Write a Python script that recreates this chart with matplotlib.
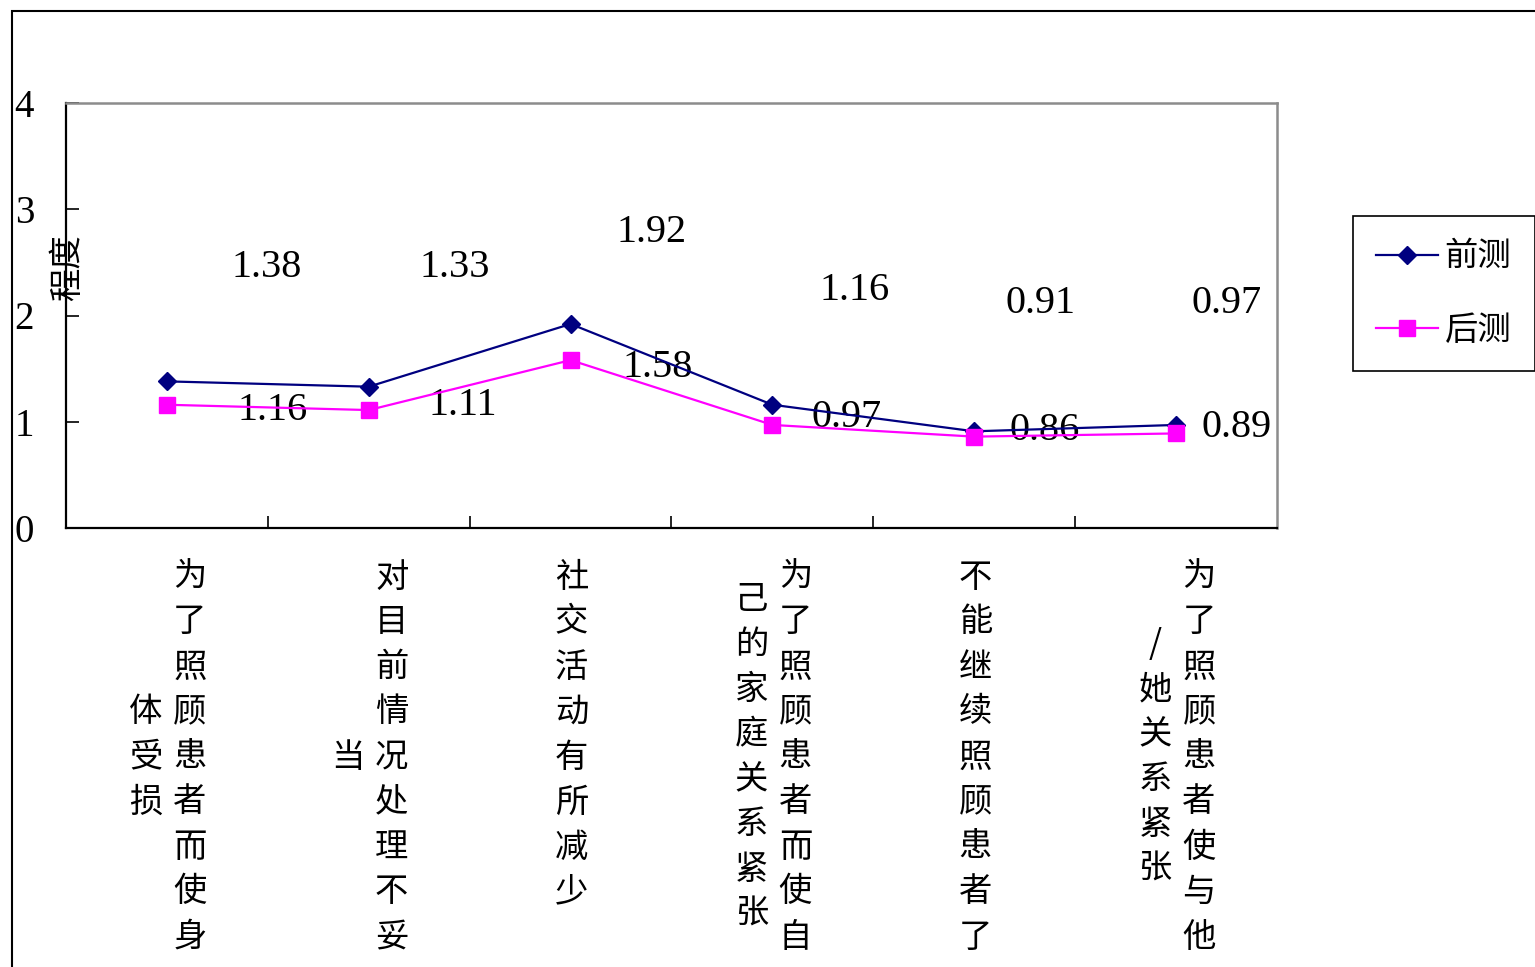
import matplotlib
matplotlib.use("Agg")
import matplotlib.pyplot as plt
from matplotlib.patches import Rectangle

# ---------------- data ----------------
categories = [
    "为了照顾患者而使身体受损",
    "对目前情况处理不妥当",
    "社交活动有所减少",
    "为了照顾患者而使自己的家庭关系紧张",
    "不能继续照顾患者了",
    "为了照顾患者使与他/她关系紧张",
]
series_names = ["前测", "后测"]
pre_values = [1.38, 1.33, 1.92, 1.16, 0.91, 0.97]
post_values = [1.16, 1.11, 1.58, 0.97, 0.86, 0.89]
y_ticks = [0, 1, 2, 3, 4]
y_label = "程度"

# data-label placement offsets (layout only: category units / value units)
pre_label_dx = [0.496, 0.426, 0.401, 0.406, 0.326, 0.251]
pre_label_dy = [0.98, 1.03, 0.77, 0.99, 1.11, 1.05]
post_label_dx = [0.523, 0.464, 0.431, 0.367, 0.348, 0.300]
post_label_dy = [-0.144, -0.046, -0.159, -0.019, -0.032, -0.034]

# ---------------- figure ----------------
W, H, DPI = 1535, 967, 100
fig = plt.figure(figsize=(W / DPI, H / DPI), dpi=DPI)
CJK = ["Noto Sans CJK SC", "DejaVu Sans"]
NUM = ["Liberation Serif", "DejaVu Serif"]
NAVY = "#000080"
MAGENTA = "#FF00FF"

# outer chart-area frame
fig.add_artist(Rectangle((12 / W, -0.2), 1.5, (1 - 10.5 / H) + 0.2,
                         transform=fig.transFigure, fill=False,
                         ec="black", lw=1.5))

ax = fig.add_axes([66 / W, 1 - 528 / H, (1277 - 66) / W, (528 - 103) / H])
x = list(range(len(categories)))
ax.plot(x, pre_values, color=NAVY, lw=1.6, marker="D", ms=9,
        label=series_names[0], zorder=3)
ax.plot(x, post_values, color=MAGENTA, lw=1.6, marker="s", ms=11.5,
        label=series_names[1], zorder=4)

ax.set_xlim(-0.5, len(categories) - 0.5)
ax.set_ylim(y_ticks[0], y_ticks[-1])
ax.set_yticks(y_ticks)
ax.set_yticklabels([str(t) for t in y_ticks], family=NUM, fontsize=28)
ax.set_xticks([i + 0.5 for i in range(len(categories) - 1)])
ax.set_xticklabels([])
ax.tick_params(axis="y", direction="in", length=9, width=1.2, pad=23)
ax.tick_params(axis="x", direction="in", length=8.5, width=1.2)

for s in ["left", "bottom"]:
    ax.spines[s].set_color("black")
    ax.spines[s].set_linewidth(1.6)
for s in ["top", "right"]:
    ax.spines[s].set_color("#8c8c8c")
    ax.spines[s].set_linewidth(1.8)

# data labels
for i, v in enumerate(pre_values):
    ax.text(i + pre_label_dx[i], v + pre_label_dy[i], f"{v:.2f}",
            ha="center", va="baseline", family=NUM, fontsize=29, zorder=2)
for i, v in enumerate(post_values):
    ax.text(i + post_label_dx[i], v + post_label_dy[i], f"{v:.2f}",
            ha="center", va="baseline", family=NUM, fontsize=29, zorder=2)

# vertical category labels (columns right-to-left, 9 chars per column)
PER_COL, ROW, COLW, TOP = 9, 45, 44, 49
for i, cat in enumerate(categories):
    cols = [cat[k:k + PER_COL] for k in range(0, len(cat), PER_COL)]
    n = len(cols)
    maxlen = max(len(c) for c in cols)
    center_y = TOP + (maxlen - 1) / 2 * ROW
    for j, col in enumerate(cols):
        xoff = ((n - 1) / 2 - j) * COLW + 1
        L = len(col)
        for k, ch in enumerate(col):
            yoff = -(center_y + (k - (L - 1) / 2) * ROW)
            ax.annotate(ch, xy=(i, 0), xycoords="data",
                        xytext=(xoff, yoff), textcoords="offset pixels",
                        ha="center", va="center", family=CJK, fontsize=24,
                        annotation_clip=False)

# y axis title
fig.text(68 / W, 1 - 268 / H, y_label, rotation=90, ha="center", va="center",
         family=CJK, fontsize=24)

# legend
leg = fig.legend(loc="upper left", bbox_to_anchor=(1353 / W, 1 - 216 / H),
                 bbox_transform=fig.transFigure, borderaxespad=0,
                 frameon=True, fancybox=False, edgecolor="black",
                 framealpha=1, prop={"family": CJK, "size": 24},
                 handlelength=1.85, handletextpad=0.2, borderpad=0.7,
                 labelspacing=1.15)
leg.get_frame().set_linewidth(1.2)

fig.savefig("out.png", dpi=DPI)
